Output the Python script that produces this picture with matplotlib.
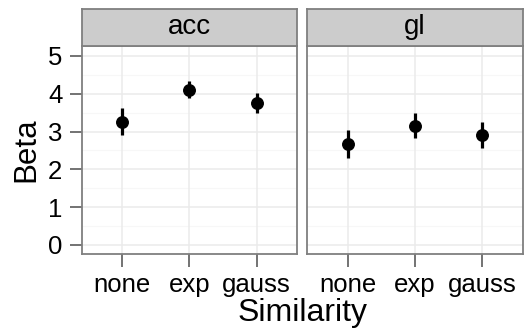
import matplotlib
matplotlib.use("Agg")
import matplotlib.pyplot as plt
import numpy as np

plt.rcParams['font.family'] = ['Liberation Sans', 'DejaVu Sans']

panels = ["acc", "gl"]
similarity = ["none", "exp", "gauss"]
beta = {
    "acc": [3.25, 4.10, 3.76],
    "gl": [2.67, 3.15, 2.91],
}
beta_lo = {
    "acc": [2.91, 3.88, 3.48],
    "gl": [2.30, 2.83, 2.56],
}
beta_hi = {
    "acc": [3.63, 4.34, 4.03],
    "gl": [3.03, 3.48, 3.25],
}
y_ticks = [0, 1, 2, 3, 4, 5]

W, H = 526, 335
fig = plt.figure(figsize=(W / 100, H / 100), dpi=100)

panel_x = [(81.7, 297.0), (307.3, 522.7)]
panel_top, panel_bot = 46.0, 253.7
strip_top = 8.7

border = "#7f7f7f"
tick_col = "#4d4d4d"

for i, name in enumerate(panels):
    x0, x1 = panel_x[i]
    ax = fig.add_axes([x0 / W, 1 - panel_bot / H, (x1 - x0) / W, (panel_bot - panel_top) / H])
    sx = fig.add_axes([x0 / W, 1 - panel_top / H, (x1 - x0) / W, (panel_top - strip_top) / H])

    xs = np.arange(1, len(similarity) + 1)
    ax.set_xlim(0.4, 3.6)
    ax.set_ylim(-0.23, 5.26)

    # minor and major grid
    for y in np.arange(-0.0, 5.5, 0.5):
        if y % 1 == 0:
            ax.axhline(y, color="#ebebeb", lw=1.1, zorder=0)
        else:
            ax.axhline(y, color="#f7f7f7", lw=0.8, zorder=0)
    for x in xs:
        ax.axvline(x, color="#ebebeb", lw=1.1, zorder=0)

    vals = np.array(beta[name])
    lo = np.array(beta_lo[name])
    hi = np.array(beta_hi[name])
    ax.vlines(xs, lo, hi, color="black", lw=2.3, zorder=3)
    ax.plot(xs, vals, "o", color="black", ms=8.3, zorder=4)

    ax.set_xticks(xs)
    ax.set_xticklabels(similarity, fontsize=18.5)
    ax.set_yticks(y_ticks)
    ax.tick_params(axis="x", length=9, width=1.1, color=tick_col, pad=5,
                   labelcolor="black")
    if i == 0:
        ax.set_yticklabels([str(t) for t in y_ticks], fontsize=18.5)
        ax.set_ylabel("Beta", fontsize=22.5, labelpad=5)
        ax.tick_params(axis="y", length=9, width=1.1, color=tick_col, pad=5,
                       labelcolor="black")
    else:
        ax.tick_params(axis="y", length=0, labelleft=False)
    for s in ax.spines.values():
        s.set_color(border)
        s.set_linewidth(1.3)

    sx.set_facecolor("#cccccc")
    sx.set_xticks([])
    sx.set_yticks([])
    for s in sx.spines.values():
        s.set_color(border)
        s.set_linewidth(1.3)
    sx.text(0.5, 0.5, name, ha="center", va="center", fontsize=20,
            transform=sx.transAxes)

fig.text((81.7 + 522.7) / 2 / W, 1 - 321 / H, "Similarity", ha="center",
         va="baseline", fontsize=23)

fig.savefig("out.png", dpi=100)
